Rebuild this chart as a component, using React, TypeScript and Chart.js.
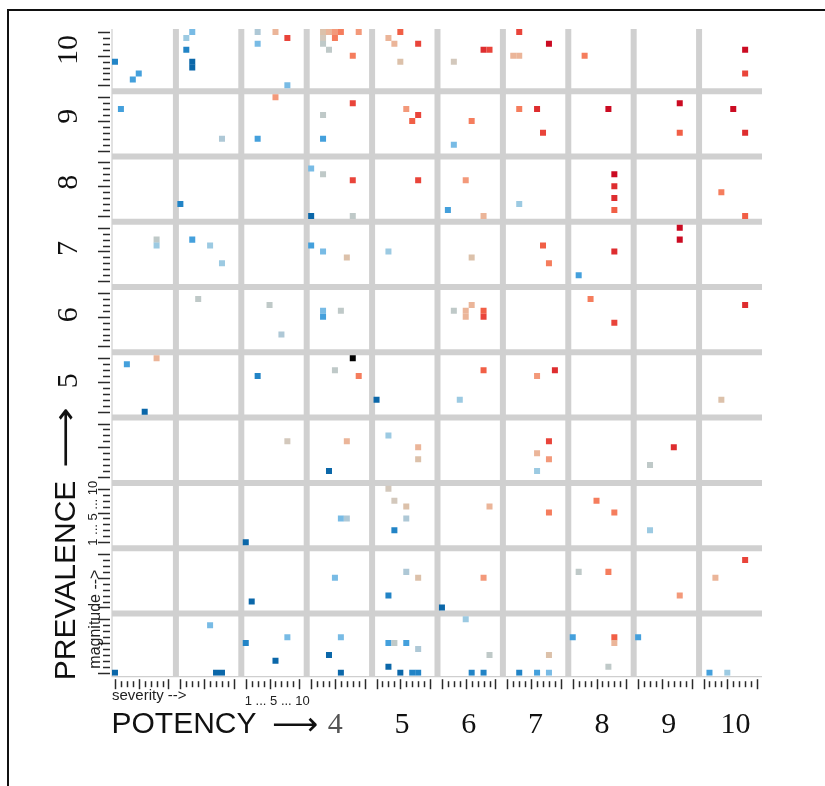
import React, { useEffect, useRef } from 'react';
import { Chart, registerables } from 'chart.js';

Chart.register(...registerables);

// ---- data: one entry per marker ----
const potency = [
  1,1,1,2,2,2,2,2,3,3,3,3,3,4,4,4,4,4,4,4,4,4,4,5,5,5,5,5,6,6,6,7,7,7,7,8,10,10,
  1,2,3,3,4,4,4,5,5,5,6,6,7,7,7,8,9,9,10,10,
  4,4,4,2,4,4,5,6,6,6,7,8,8,8,8,10,10,
  1,1,2,2,2,4,4,4,5,6,7,7,8,8,9,9,
  2,3,3,4,4,4,6,6,6,6,6,6,8,8,10,
  1,1,1,3,4,4,4,5,6,6,7,7,10,
  3,4,4,5,5,5,7,7,7,7,9,9,
  3,4,4,5,5,5,5,5,6,7,8,8,9,
  4,3,5,5,5,6,6,8,8,9,10,10,
  1,2,2,2,3,3,3,4,4,4,5,5,5,5,5,5,5,5,6,6,6,6,7,7,7,7,8,8,8,8,9,10,10,
];
const severity = [
  1,5,4,3,2,2,3,3,8,3,6,8,3,3,3,3,4,4,5,6,5,9,8,3,5,4,8,5,3,8,9,3,8,2,3,3,8,8,
  2,8,3,6,3,3,8,6,8,7,6,3,3,6,7,7,8,8,6,8,
  1,3,8,1,1,8,8,5,2,8,3,8,8,8,8,4,8,
  8,8,3,6,8,1,3,7,3,6,7,8,2,8,8,8,
  4,5,7,3,3,6,3,5,5,6,8,8,4,8,8,
  3,8,6,3,8,5,9,1,4,8,6,9,4,
  8,7,4,3,8,8,8,6,8,6,7,3,
  1,6,7,3,4,6,6,4,9,8,5,8,3,
  5,2,6,8,3,1,8,2,7,8,8,3,
  1,7,8,6,1,8,6,6,4,6,3,4,6,8,3,5,7,8,5,9,6,8,3,6,8,8,1,8,8,7,1,2,5,
];
const prevalence = [
  10,10,10,10,10,10,10,10,10,10,10,10,10,10,10,10,10,10,10,10,10,10,10,10,10,10,10,10,10,10,10,10,10,10,10,10,10,10,
  9,9,9,9,9,9,9,9,9,9,9,9,9,9,9,9,9,9,9,9,
  8,8,8,8,8,8,8,8,8,8,8,8,8,8,8,8,8,
  7,7,7,7,7,7,7,7,7,7,7,7,7,7,7,7,
  6,6,6,6,6,6,6,6,6,6,6,6,6,6,6,
  5,5,5,5,5,5,5,5,5,5,5,5,5,
  4,4,4,4,4,4,4,4,4,4,4,4,
  3,3,3,3,3,3,3,3,3,3,3,3,3,
  2,2,2,2,2,2,2,2,2,2,2,2,
  1,1,1,1,1,1,1,1,1,1,1,1,1,1,1,1,1,1,1,1,1,1,1,1,1,1,1,1,1,1,1,1,1,
];
const magnitude = [
  5,3,2,10,9,7,5,4,1,10,10,9,8,10,9,8,7,10,10,10,9,10,6,9,10,8,8,5,5,7,7,10,8,6,6,6,7,3,
  8,3,3,10,7,3,9,8,7,6,6,2,8,8,4,8,9,4,8,4,
  9,8,7,3,1,1,7,7,2,1,3,8,6,4,2,5,1,
  8,7,8,7,4,7,6,5,6,5,7,4,2,6,10,8,
  9,8,3,7,6,7,7,7,6,8,7,6,9,5,8,
  9,10,1,7,10,8,7,3,3,8,7,8,3,
  7,7,2,8,6,4,7,5,4,2,6,3,
  1,5,5,10,8,7,5,3,7,6,8,6,3,
  6,2,7,6,3,1,6,7,7,3,9,6,
  1,1,1,9,6,7,3,7,4,1,6,6,6,5,2,1,1,1,10,4,1,1,1,1,1,4,7,7,6,2,7,1,1,
];
// colour level (0 = deep blue ... 15 = deep red, 16 = black)
const level = [
  1,2,2,3,4,1,0,0,3,5,9,13,3,8,7,6,6,9,10,11,11,10,11,9,12,9,13,8,7,14,13,13,15,9,9,11,15,13,
  2,5,2,10,6,2,13,10,13,12,11,3,11,14,13,15,15,12,15,14,
  3,6,13,1,0,6,13,10,2,9,4,15,14,14,12,11,12,
  6,4,2,4,4,2,3,8,4,8,12,11,2,14,15,15,
  6,6,5,3,2,6,6,9,9,9,12,13,11,13,14,
  2,9,0,1,16,6,11,0,4,12,10,14,8,
  7,9,0,4,9,8,13,9,10,4,14,6,
  0,3,5,7,7,8,5,1,9,11,11,11,4,
  3,0,5,8,1,0,10,6,11,10,13,9,
  0,0,0,3,1,3,0,3,0,0,2,6,2,5,0,0,1,1,4,6,1,1,1,2,3,8,2,12,9,6,2,2,4,
];

const potencyLabels = ['4', '5', '6', '7', '8', '9', '10'];
const prevalenceLabels = ['5', '6', '7', '8', '9', '10'];
const subTickLabel = '1 ... 5 ... 10';

const PALETTE = [
  '#0b67a9', '#2284c6', '#44a0dc', '#78bbe5', '#9ccae2', '#aec8d6', '#bfc9c8',
  '#d3c8bc', '#dcc1aa', '#ebb599', '#f3997a', '#f57d5d', '#f15f46', '#e9443a',
  '#de2d2f', '#cb0b22', '#000000',
];

const CELL = 11; // 10 sub-steps + 1 gap per cell
const SANS = '"Liberation Sans", Arial, sans-serif';
const SERIF = '"Liberation Serif", "Times New Roman", serif';
const ARROW_FONT = '"DejaVu Sans", "Noto Sans", sans-serif';

// draws a long arrow glyph sized so its natural width is 44px, stretched to `width`
function drawArrow(ctx: CanvasRenderingContext2D, left: number, cy: number, width: number) {
  ctx.font = `30px ${ARROW_FONT}`;
  let m = ctx.measureText('\u27F6');
  const w = m.actualBoundingBoxRight + m.actualBoundingBoxLeft;
  const size = (30 * 44) / (w || 30);
  ctx.font = `${size}px ${ARROW_FONT}`;
  m = ctx.measureText('\u27F6');
  ctx.textAlign = 'left';
  ctx.textBaseline = 'alphabetic';
  const base = cy + (m.actualBoundingBoxAscent - m.actualBoundingBoxDescent) / 2;
  ctx.save();
  ctx.translate(left, 0);
  ctx.scale(width / 44, 1);
  ctx.fillText('\u27F6', m.actualBoundingBoxLeft, base);
  ctx.restore();
}

const overlay = {
  id: 'overlay',
  beforeDatasetsDraw(chart: any) {
    const { ctx, scales } = chart;
    const x = scales.x;
    const y = scales.y;
    const x0 = x.getPixelForValue(0.5);
    const x1 = x.getPixelForValue(109.5);
    const y0 = y.getPixelForValue(0.5);
    const y1 = y.getPixelForValue(109.5);
    ctx.save();
    // thin axis lines
    ctx.strokeStyle = '#cfcfcf';
    ctx.lineWidth = 1.2;
    ctx.beginPath();
    ctx.moveTo(x0, y1);
    ctx.lineTo(x0, y0 + 1);
    ctx.lineTo(x1 + 2, y0 + 1);
    ctx.stroke();
    // thick cell separators
    ctx.strokeStyle = '#d0d0d0';
    ctx.lineWidth = 6;
    ctx.lineCap = 'butt';
    for (let k = 1; k < 10; k++) {
      const vx = x.getPixelForValue(CELL * k + 0.25);
      ctx.beginPath();
      ctx.moveTo(vx, y1);
      ctx.lineTo(vx, y0 + 1);
      ctx.stroke();
      const hy = y.getPixelForValue(CELL * k);
      ctx.beginPath();
      ctx.moveTo(x0, hy);
      ctx.lineTo(x1 + 2, hy);
      ctx.stroke();
    }
    ctx.restore();
  },
  afterDraw(chart: any) {
    const { ctx, scales } = chart;
    const x = scales.x;
    const y = scales.y;
    const bottom = y.getPixelForValue(0.5);
    const left = x.getPixelForValue(0.5);
    ctx.save();
    // minor ticks
    ctx.strokeStyle = '#2a2a2a';
    ctx.lineWidth = 1.5;
    for (let c = 0; c < 10; c++) {
      for (let s = 1; s <= 10; s++) {
        const big = s === 1 || s === 5 || s === 10;
        const px = Math.round(x.getPixelForValue(c * CELL + s)) + 0.5;
        ctx.beginPath();
        ctx.moveTo(px, bottom + (big ? 3.5 : 5.5));
        ctx.lineTo(px, bottom + (big ? 13.5 : 11.5));
        ctx.stroke();
        const bigY = s === 1 || s === 6 || s === 10;
        const py = Math.round(y.getPixelForValue(c * CELL + s)) + 0.5;
        ctx.beginPath();
        ctx.moveTo(left - (bigY ? 14 : 9), py);
        ctx.lineTo(left - 2, py);
        ctx.stroke();
      }
    }
    ctx.fillStyle = '#222';
    // small axis captions
    ctx.font = `15px ${SANS}`;
    ctx.textAlign = 'left';
    ctx.textBaseline = 'alphabetic';
    ctx.fillText('severity -->', left, bottom + 24.5);
    ctx.font = `13px ${SANS}`;
    ctx.fillText(subTickLabel, x.getPixelForValue(2 * CELL + 1) - 1, bottom + 29.5);

    ctx.save();
    ctx.translate(left - 12.5, bottom - 7);
    ctx.rotate(-Math.PI / 2);
    ctx.font = `16px ${SANS}`;
    ctx.fillText('magnitude -->', 0, 0);
    ctx.restore();

    ctx.save();
    ctx.translate(left - 15, y.getPixelForValue(2 * CELL + 0.4));
    ctx.rotate(-Math.PI / 2);
    ctx.font = `13px ${SANS}`;
    ctx.fillText(subTickLabel, 0, 0);
    ctx.restore();

    // big axis titles
    ctx.fillStyle = '#111';
    ctx.font = `30px ${SANS}`;
    const baseX = bottom + 57.6;
    ctx.fillText('POTENCY', left - 0.5, baseX);
    const potW = ctx.measureText('POTENCY').width;
    drawArrow(ctx, left + potW + 16, baseX - 9, 44);

    ctx.save();
    ctx.translate(left - 37.5, bottom + 4.5);
    ctx.rotate(-Math.PI / 2);
    ctx.font = `30px ${SANS}`;
    ctx.fillStyle = '#111';
    ctx.fillText('PREVALENCE', 0, 0);
    const prevW = ctx.measureText('PREVALENCE').width;
    drawArrow(ctx, prevW + 14, -9, 58);
    ctx.restore();

    // cell numbers
    ctx.font = `30px ${SERIF}`;
    ctx.textAlign = 'center';
    potencyLabels.forEach((t) => {
      const p = Number(t);
      ctx.fillStyle = p === 4 ? '#555' : '#111';
      const cx = x.getPixelForValue((p - 1) * CELL + 5.5 + (p - 6) * 0.22);
      ctx.fillText(t, cx, baseX);
    });
    ctx.fillStyle = '#111';
    prevalenceLabels.forEach((t) => {
      const p = Number(t);
      const cy = y.getPixelForValue((p - 1) * CELL + 5.5 + 0.7 + (p - 5) * 0.15);
      ctx.save();
      ctx.translate(left - 35, cy);
      ctx.rotate(-Math.PI / 2);
      ctx.fillText(t, 0, 0);
      ctx.restore();
    });
    ctx.restore();
  },
};

export default function App() {
  const ref = useRef<HTMLCanvasElement | null>(null);
  useEffect(() => {
    if (!ref.current) return;
    const points = potency.map((p, i) => ({
      x: (p - 1) * CELL + severity[i],
      y: (prevalence[i] - 1) * CELL + magnitude[i],
    }));
    const chart = new Chart(ref.current, {
      type: 'scatter',
      data: {
        datasets: [
          {
            data: points,
            backgroundColor: level.map((l) => PALETTE[l]),
            borderWidth: 0,
            pointStyle: 'rect',
            pointRadius: 4.25,
            pointHoverRadius: 4.25,
          },
        ],
      },
      options: {
        responsive: false,
        animation: false,
        devicePixelRatio: 1,
        events: [],
        layout: { padding: { left: 112, right: 65, top: 29, bottom: 110.3 } },
        plugins: { legend: { display: false }, tooltip: { enabled: false } },
        scales: {
          x: { type: 'linear', min: 0.5, max: 109.5, display: false },
          y: { type: 'linear', min: 0.5, max: 109.5, display: false },
        },
      },
      plugins: [overlay],
    });
    return () => chart.destroy();
  }, []);
  return (
    <div
      style={{
        position: 'absolute',
        left: 0,
        top: 0,
        width: 825,
        height: 786,
        overflow: 'hidden',
        background: '#fff',
      }}
    >
      <div
        style={{
          position: 'absolute',
          left: 7,
          top: 9,
          width: 900,
          height: 900,
          borderTop: '2px solid #111',
          borderLeft: '2px solid #111',
        }}
      />
      <canvas
        ref={ref}
        width={825}
        height={786}
        style={{ position: 'absolute', left: 0, top: 0, width: 825, height: 786 }}
      />
    </div>
  );
}
